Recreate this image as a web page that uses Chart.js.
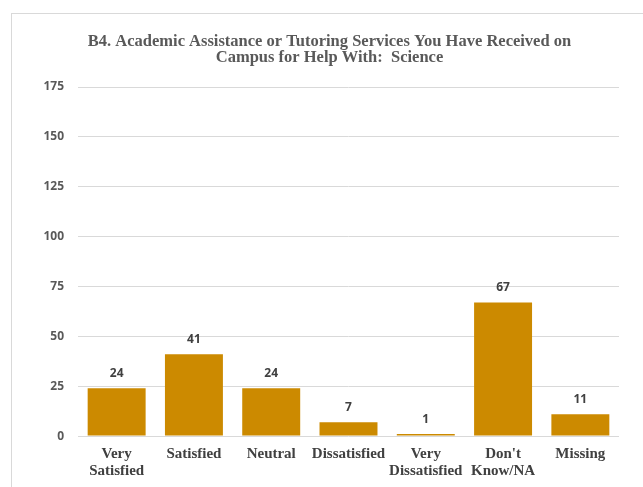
<!DOCTYPE html>
<html>
<head>
<meta charset="utf-8">
<script src="https://cdn.jsdelivr.net/npm/chart.js@4"></script>
<style>
  html, body { margin: 0; padding: 0; background: #fff; overflow: hidden; width: 643px; height: 487px; }
  #frame { position: absolute; left: 11px; top: 13px; width: 700px; height: 600px; border: 1px solid #d9d9d9; }
  #wrap { position: absolute; left: 0; top: 0; width: 659px; height: 490px; }
</style>
</head>
<body>
<div id="frame"></div>
<div id="wrap"><canvas id="chart" width="659" height="490"></canvas></div>
<script>
// categories and counts
const categories = [['Very', 'Satisfied'], 'Satisfied', 'Neutral', 'Dissatisfied', ['Very', 'Dissatisfied'], ["Don't", 'Know/NA'], 'Missing'];
const counts = [24, 41, 24, 7, 1, 67, 11];
const yTicks = [0, 25, 50, 75, 100, 125, 150, 175];
const titleLines = ['B4. Academic Assistance or Tutoring Services You Have Received on', 'Campus for Help With:  Science'];

// simple value labels above each bar
const barLabels = {
  id: 'barLabels',
  afterDatasetsDraw(chart) {
    const { ctx } = chart;
    const meta = chart.getDatasetMeta(0);
    ctx.save();
    ctx.font = 'bold 12px "Open Sans", sans-serif';
    ctx.fillStyle = '#404040';
    ctx.textAlign = 'center';
    ctx.textBaseline = 'bottom';
    meta.data.forEach((bar, i) => {
      ctx.fillText(String(counts[i]), bar.x, bar.y - 9);
    });
    ctx.restore();
  }
};

const ctx = document.getElementById('chart').getContext('2d');
new Chart(ctx, {
  type: 'bar',
  data: {
    labels: categories,
    datasets: [{
      data: counts,
      backgroundColor: '#CC8A00',
      borderWidth: 0,
      categoryPercentage: 0.75,
      barPercentage: 1
    }]
  },
  options: {
    responsive: false,
    animation: false,
    layout: { padding: { left: 40, right: 40, top: 0, bottom: 0 } },
    plugins: {
      legend: { display: false },
      tooltip: { enabled: false },
      title: {
        display: true,
        text: titleLines,
        color: '#595959',
        font: { family: '"Liberation Serif", "Times New Roman", serif', size: 16.5, weight: 'bold', lineHeight: 1.0 },
        padding: { top: 33, bottom: 21 }
      }
    },
    scales: {
      x: {
        grid: { display: false, drawTicks: false },
        border: { display: false },
        ticks: {
          color: '#404040',
          font: { family: '"Liberation Serif", "Times New Roman", serif', size: 15, weight: 'bold', lineHeight: 1.13 },
          padding: 10,
          maxRotation: 0,
          autoSkip: false
        }
      },
      y: {
        min: 0,
        max: 175,
        afterFit(scale) { scale.width = 38; },
        afterBuildTicks(scale) { scale.ticks = yTicks.map(v => ({ value: v })); },
        grid: { color: '#d9d9d9', drawTicks: false },
        border: { display: false },
        ticks: {
          color: '#595959',
          font: { family: '"Open Sans", sans-serif', size: 12, weight: 'bold' },
          padding: 14
        }
      }
    }
  },
  plugins: [barLabels]
});
</script>
</body>
</html>
